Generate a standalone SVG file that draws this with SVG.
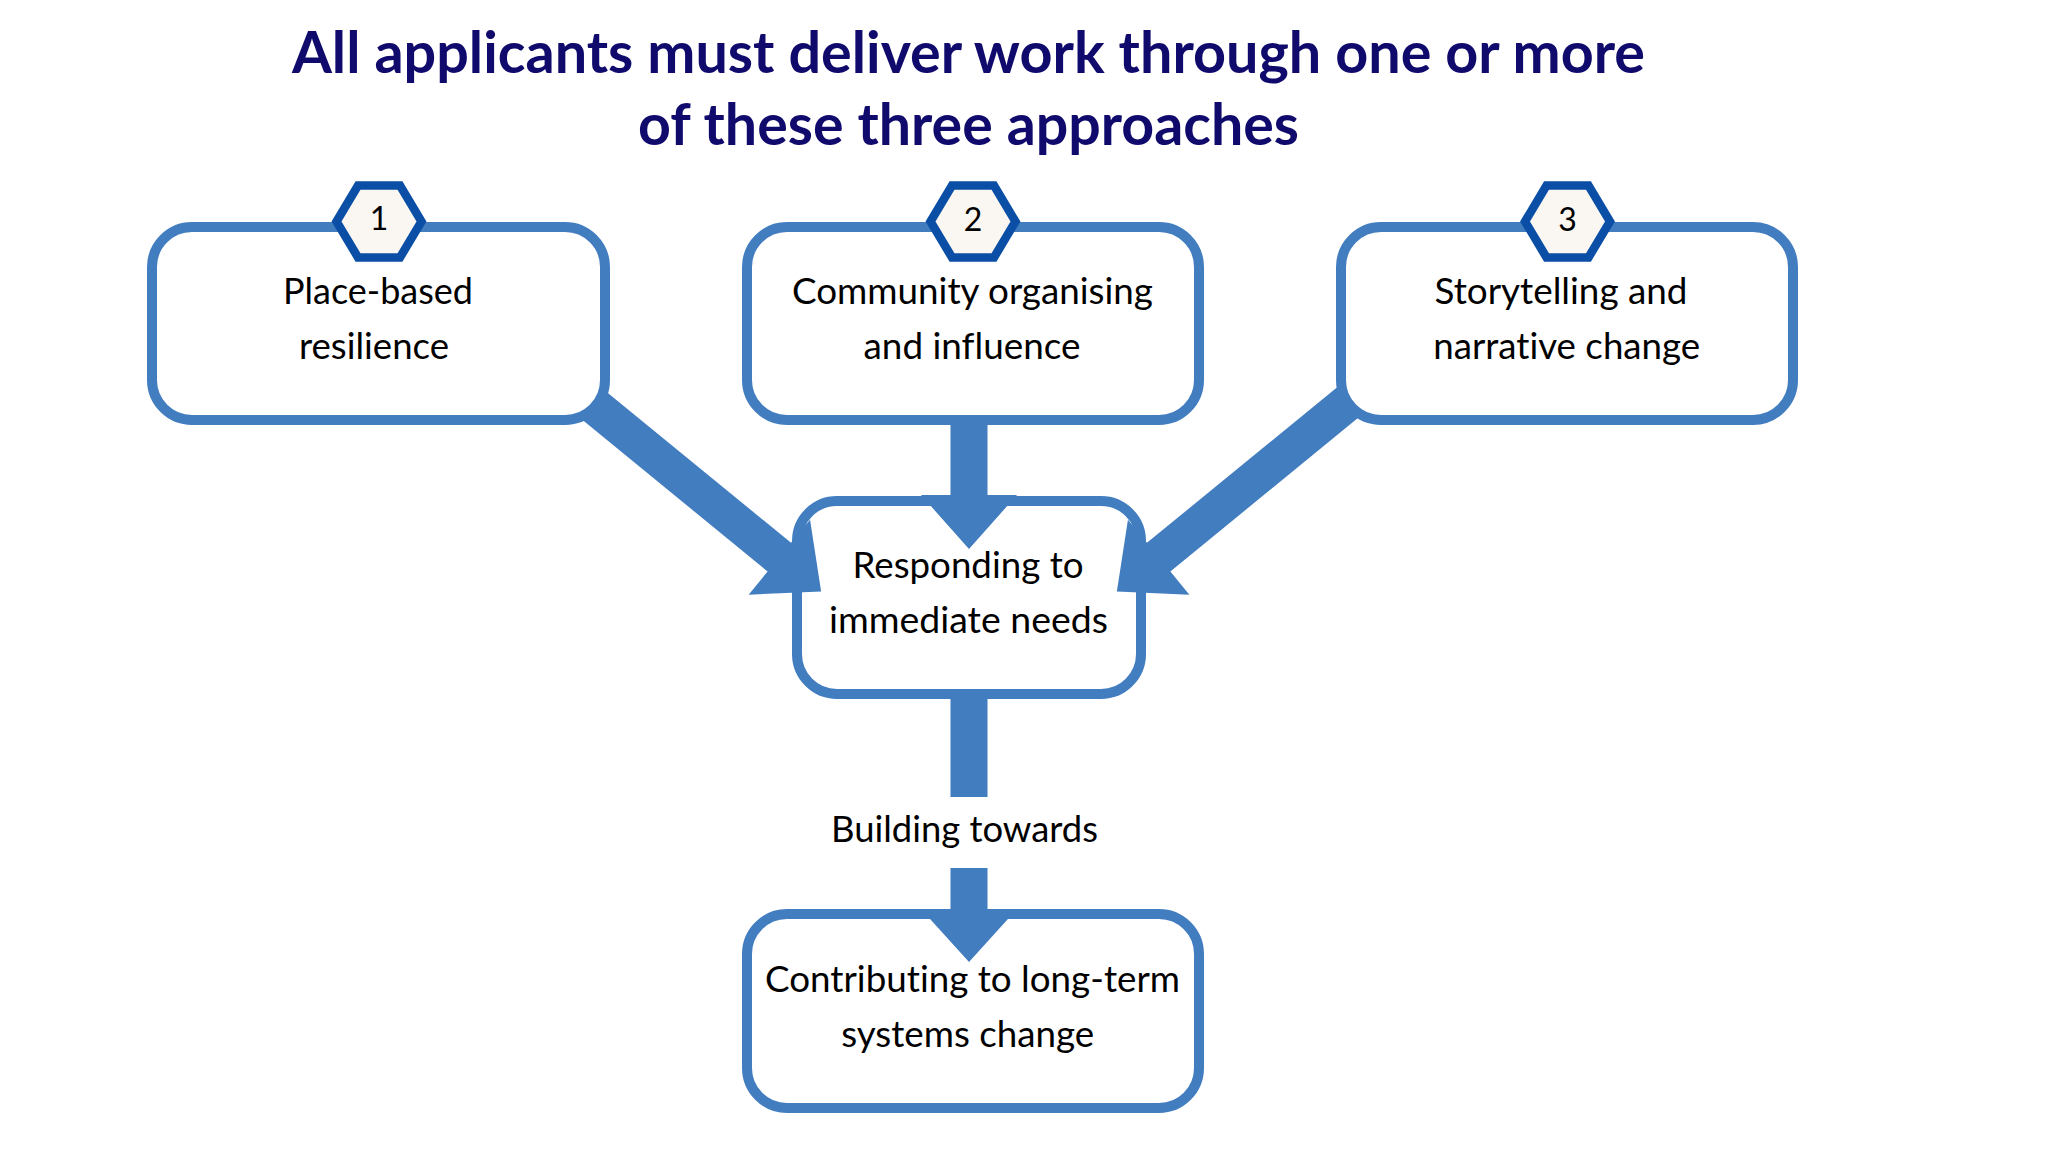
<svg xmlns="http://www.w3.org/2000/svg" xmlns:xlink="http://www.w3.org/1999/xlink" width="2048" height="1152" viewBox="0 0 2048 1152">
<defs>
<style>
.box{fill:#FFFFFF;stroke:#427DC0;stroke-width:10}
.hex{fill:#FAF7F2;stroke:#0B4EA6;stroke-width:8.5;stroke-linejoin:miter}
.arrow{fill:#427DC0;stroke:none}
text{font-variant-ligatures:none;font-feature-settings:"liga" 0,"clig" 0,"dlig" 0}
.lbl{font-family:Lato,"Noto Sans","Liberation Sans",sans-serif;font-size:36px;fill:#000000;text-anchor:middle}
.num{font-family:Lato,"Noto Sans","Liberation Sans",sans-serif;font-size:32px;fill:#000000;text-anchor:middle}
.title{font-family:Lato,"Noto Sans","Liberation Sans",sans-serif;font-size:57px;font-weight:700;fill:#0F0A6C;text-anchor:middle}
</style>
<path id="hexShape" d="M-42.5,0 L-21,-36 H21 L42.5,0 L21,36 H-21 Z"/>
</defs>
<rect x="0" y="0" width="2048" height="1152" fill="#FFFFFF"/>

<g id="title">
<text class="title" x="968.5" y="73" textLength="1353" lengthAdjust="spacingAndGlyphs">All applicants must deliver work through one or more</text>
<text class="title" x="968.5" y="145" textLength="661" lengthAdjust="spacingAndGlyphs">of these three approaches</text>
</g>

<g id="node-responding">
<rect class="box" x="797" y="501" width="344" height="193" rx="40" ry="40"/>
<text class="lbl" x="968" y="578" textLength="231" lengthAdjust="spacingAndGlyphs">Responding to</text>
<text class="lbl" x="968.4" y="633" textLength="279" lengthAdjust="spacingAndGlyphs">immediate needs</text>
</g>

<g id="node-systems">
<rect class="box" x="747" y="914" width="452" height="194" rx="40" ry="40"/>
<text class="lbl" x="972.5" y="992" textLength="415" lengthAdjust="spacingAndGlyphs">Contributing to long-term</text>
<text class="lbl" x="967.7" y="1047" textLength="253" lengthAdjust="spacingAndGlyphs">systems change</text>
</g>

<g id="connectors">
<path class="arrow" d="M950.5,420 H987.5 V495 H1017 L969,549 L921,495 H950.5 Z"/>
<path class="arrow" d="M0,-18.5 H266 V-48.5 L320,0 L266,48.5 V18.5 H0 Z" transform="translate(573.5,388.7) rotate(39.3)"/>
<path class="arrow" d="M0,-18.5 H266 V-48.5 L320,0 L266,48.5 V18.5 H0 Z" transform="translate(1364.5,388.7) rotate(140.7)"/>
<path class="arrow" d="M950.5,694 H987.5 V797 H950.5 Z"/>
<path class="arrow" d="M950.5,868 H987.5 V909 H1017 L969,962 L921,909 H950.5 Z"/>
<text class="lbl" x="964.5" y="842" textLength="267" lengthAdjust="spacingAndGlyphs">Building towards</text>
</g>

<g id="node-place">
<rect class="box" x="152" y="227" width="453" height="193" rx="40" ry="40"/>
<use xlink:href="#hexShape" href="#hexShape" class="hex" transform="translate(379,221.5)"/>
<text class="num" x="379" y="229.5">1</text>
<text class="lbl" x="378" y="304" textLength="190" lengthAdjust="spacingAndGlyphs">Place-based</text>
<text class="lbl" x="374" y="359" textLength="150" lengthAdjust="spacingAndGlyphs">resilience</text>
</g>

<g id="node-community">
<rect class="box" x="747" y="227" width="452" height="193" rx="40" ry="40"/>
<use xlink:href="#hexShape" href="#hexShape" class="hex" transform="translate(973,221.5)"/>
<text class="num" x="973" y="230.5">2</text>
<text class="lbl" x="972.5" y="304" textLength="361" lengthAdjust="spacingAndGlyphs">Community organising</text>
<text class="lbl" x="972" y="359" textLength="217" lengthAdjust="spacingAndGlyphs">and influence</text>
</g>

<g id="node-storytelling">
<rect class="box" x="1341" y="227" width="452" height="193" rx="40" ry="40"/>
<use xlink:href="#hexShape" href="#hexShape" class="hex" transform="translate(1567.5,221.5)"/>
<text class="num" x="1567.5" y="230.5">3</text>
<text class="lbl" x="1561" y="304" textLength="253" lengthAdjust="spacingAndGlyphs">Storytelling and</text>
<text class="lbl" x="1566.7" y="359" textLength="267" lengthAdjust="spacingAndGlyphs">narrative change</text>
</g>
</svg>
